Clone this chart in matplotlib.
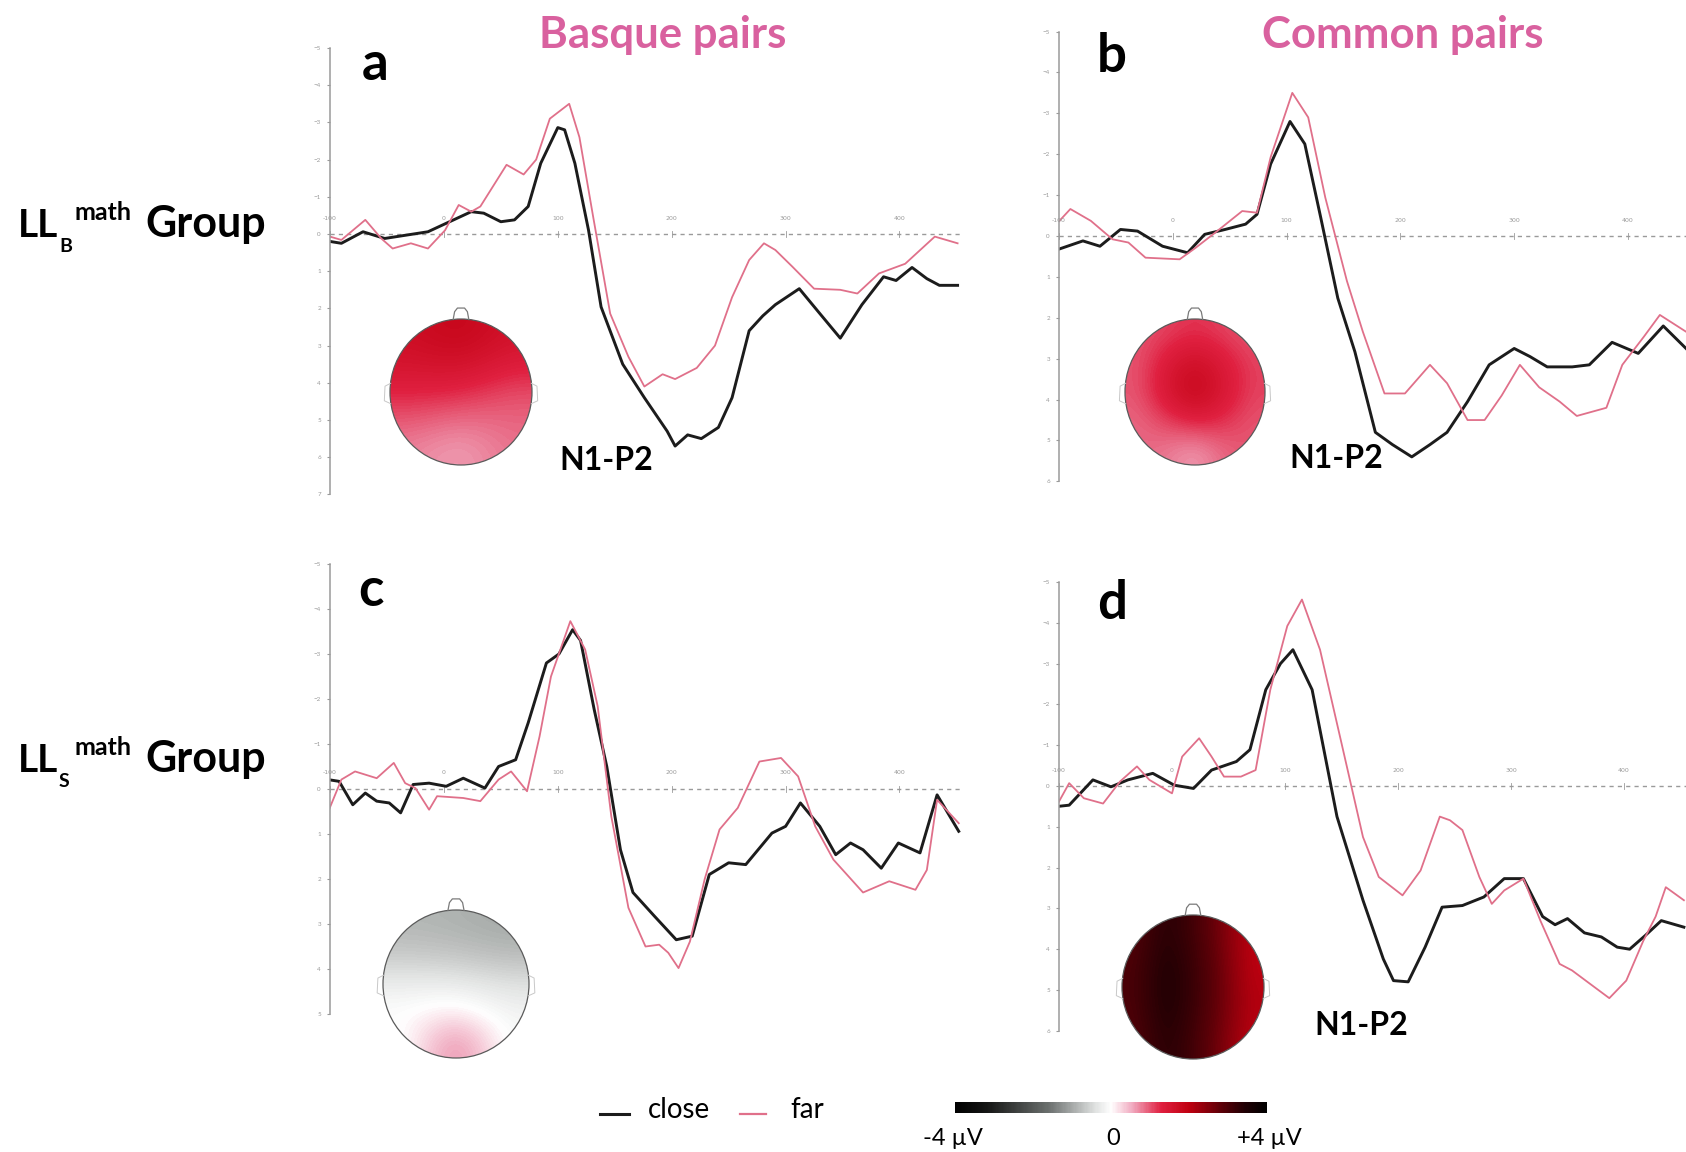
import matplotlib
matplotlib.use("Agg")
import matplotlib.pyplot as plt
import matplotlib.cm as cm
from matplotlib.colors import LinearSegmentedColormap, Normalize
from matplotlib.patches import Ellipse
from matplotlib.lines import Line2D

plt.rcParams['font.family'] = ['Lato', 'DejaVu Sans']

W, H = 1686, 1152

# --- ERP waveforms (time in ms, amplitude in uV, negative up) ---
a_close_t = [-100, -90, -71, -52, -33, -14, 5, 24, 35, 50, 62, 74, 85, 100, 106, 115, 127, 138, 157, 176,
             196, 203, 214, 226, 241, 253, 268, 280, 291, 312, 329, 348, 367, 386, 397, 411, 424, 435, 451]
a_close = [0.2, 0.25, -0.06, 0.12, 0.03, -0.06, -0.33, -0.6, -0.56, -0.33, -0.38, -0.74, -1.9, -2.86, -2.8,
           -1.9, -0.1, 1.96, 3.5, 4.4, 5.3, 5.7, 5.4, 5.5, 5.2, 4.4, 2.6, 2.2, 1.9, 1.47, 2.1, 2.8, 1.9,
           1.15, 1.25, 0.9, 1.2, 1.38, 1.38]
a_far_t = [-100, -90, -69, -55, -45, -29, -14, 1, 13, 24, 32, 55, 70, 81, 93, 110, 119, 131, 146, 162,
           176, 192, 203, 222, 238, 253, 268, 281, 291, 306, 325, 348, 363, 382, 405, 431, 451]
a_far = [0.07, 0.16, -0.38, 0.12, 0.39, 0.25, 0.39, -0.1, -0.78, -0.6, -0.74, -1.86, -1.6, -2.0, -3.1,
         -3.5, -2.6, -0.47, 2.14, 3.3, 4.1, 3.77, 3.9, 3.6, 3.0, 1.7, 0.7, 0.25, 0.43, 0.88, 1.47, 1.5,
         1.6, 1.06, 0.8, 0.07, 0.25]

b_close_t = [-101, -79, -64, -46, -31, -9, 13, 28, 46, 64, 74, 86, 103, 116, 130, 145, 160, 178, 193, 210,
             226, 241, 259, 278, 300, 314, 329, 351, 366, 386, 409, 431, 451]
b_close = [0.33, 0.12, 0.25, -0.16, -0.12, 0.25, 0.41, -0.04, -0.16, -0.29, -0.53, -1.76, -2.8, -2.25,
           -0.45, 1.52, 2.83, 4.8, 5.1, 5.4, 5.1, 4.8, 4.05, 3.15, 2.75, 2.95, 3.2, 3.2, 3.15, 2.6, 2.87,
           2.2, 2.75]
b_far_t = [-101, -90, -72, -53, -39, -24, 6, 20, 39, 61, 74, 86, 105, 119, 134, 153, 167, 186, 204, 226,
           241, 259, 274, 289, 305, 322, 340, 355, 381, 395, 414, 428, 451]
b_far = [-0.33, -0.66, -0.37, 0.08, 0.16, 0.53, 0.57, 0.29, -0.12, -0.61, -0.57, -1.93, -3.5, -2.9,
         -0.94, 1.1, 2.34, 3.85, 3.85, 3.15, 3.6, 4.5, 4.5, 3.9, 3.15, 3.7, 4.05, 4.4, 4.2, 3.15, 2.46,
         1.93, 2.34]

c_close_t = [-102, -92, -80, -69, -59, -48, -38, -27, -13, 2, 17, 36, 48, 63, 74, 90, 101, 113, 120, 132,
             143, 155, 166, 185, 204, 218, 233, 250, 265, 288, 300, 313, 330, 344, 357, 368, 384, 399,
             418, 433, 452]
c_close = [-0.21, -0.17, 0.35, 0.09, 0.27, 0.31, 0.53, -0.1, -0.13, -0.06, -0.24, -0.02, -0.5, -0.65,
           -1.47, -2.8, -3.0, -3.54, -3.3, -1.76, -0.5, 1.35, 2.3, 2.83, 3.35, 3.27, 1.9, 1.64, 1.68,
           0.98, 0.83, 0.31, 0.83, 1.46, 1.2, 1.35, 1.76, 1.2, 1.42, 0.13, 0.94]
c_far_t = [-102, -90, -78, -59, -44, -34, -25, -13, -6, 17, 32, 48, 59, 73, 84, 94, 111, 124, 135, 147,
           162, 177, 189, 197, 206, 216, 229, 242, 258, 277, 296, 311, 326, 342, 368, 391, 414, 424,
           433, 452]
c_far = [0.53, -0.21, -0.39, -0.24, -0.58, -0.13, -0.02, 0.46, 0.16, 0.2, 0.27, -0.21, -0.39, 0.05,
         -1.17, -2.5, -3.73, -3.1, -1.84, 0.61, 2.64, 3.5, 3.46, 3.64, 3.98, 3.39, 2.0, 0.9, 0.42, -0.61,
         -0.69, -0.28, 0.83, 1.57, 2.3, 2.05, 2.24, 1.8, 0.24, 0.76]

d_close_t = [-101, -91, -70, -54, -39, -17, 2, 19, 35, 57, 69, 83, 96, 107, 124, 146, 169, 187, 196, 209,
             224, 239, 257, 276, 294, 311, 328, 339, 350, 365, 380, 394, 405, 419, 433, 453]
d_close = [0.5, 0.47, -0.15, 0.02, -0.15, -0.31, -0.02, 0.06, -0.39, -0.6, -0.89, -2.36, -3.0, -3.34,
           -2.36, 0.75, 2.8, 4.24, 4.77, 4.8, 3.95, 2.97, 2.93, 2.72, 2.27, 2.27, 3.2, 3.4, 3.25, 3.6,
           3.7, 3.95, 4.0, 3.66, 3.3, 3.46]
d_far_t = [-101, -91, -78, -61, -46, -31, -20, 0, 9, 24, 35, 46, 61, 74, 87, 102, 115, 131, 150, 169,
           183, 204, 220, 237, 246, 257, 272, 283, 294, 311, 326, 343, 354, 370, 387, 402, 417, 428,
           437, 453]
d_far = [0.43, -0.07, 0.3, 0.43, -0.11, -0.48, -0.15, 0.18, -0.72, -1.17, -0.72, -0.23, -0.23, -0.39,
         -2.36, -3.92, -4.57, -3.34, -1.05, 1.25, 2.23, 2.68, 2.07, 0.75, 0.84, 1.08, 2.23, 2.89, 2.56,
         2.27, 3.3, 4.36, 4.52, 4.85, 5.2, 4.77, 3.8, 3.2, 2.48, 2.8]

time_ticks = [-100, 0, 100, 200, 300, 400]

# --- topographic maps (uV, rows = front -> back, cols = left -> right) ---
a_topo = [[1.7, 1.9, 1.6],
          [1.3, 1.25, 1.0],
          [0.75, 0.55, 0.85]]
b_topo = [[1.0, 1.1, 1.2, 1.1, 1.0],
          [1.0, 1.4, 1.7, 1.4, 1.1],
          [1.0, 1.5, 1.9, 1.5, 1.1],
          [0.9, 1.1, 1.3, 1.2, 1.0],
          [0.9, 0.8, 0.6, 0.9, 1.0]]
c_topo = [[-0.85, -0.9, -1.0],
          [-0.65, -0.7, -0.8],
          [-0.25, -0.25, -0.4],
          [0.0, 0.2, -0.15],
          [-0.1, 0.9, -0.1]]
d_topo = [[2.9, 3.4, 3.1, 2.6, 2.0],
          [3.0, 3.5, 3.2, 2.7, 2.0],
          [3.0, 3.5, 3.2, 2.7, 2.1],
          [2.9, 3.4, 3.1, 2.6, 2.0]]

cbar_labels = ['-4 µV', '0', '+4 µV']

BLACK = '#1c1c1c'
PINK_LINE = '#e0708a'
TITLE_PINK = '#d9619f'
GREY = '#9a9a9a'

cmap = LinearSegmentedColormap.from_list('erp', [
    (0.0, '#000000'), (0.1, '#141514'), (0.3, '#6b706e'), (0.45, '#e0e2e1'), (0.5, '#ffffff'),
    (0.57, '#f0a8be'), (0.66, '#e02040'), (0.75, '#c00010'), (0.85, '#600008'), (0.93, '#200004'),
    (1.0, '#000000')])
norm = Normalize(-4, 4)

fig = plt.figure(figsize=(W / 100, H / 100), dpi=100)


def box(x0, y0, x1, y1):
    # pixel box (origin top-left) -> figure fraction rect
    return [x0 / W, 1 - y1 / H, (x1 - x0) / W, (y1 - y0) / H]


def ftext(x, y, s, **kw):
    fig.text(x / W, 1 - y / H, s, **kw)


def erp_panel(x0, zero, unit, ylo, yhi, ppm, tmax, close_t, close, far_t, far):
    right = x0 + (tmax + 100) * ppm
    ax = fig.add_axes(box(x0, zero + ylo * unit, right, zero + yhi * unit))
    ax.set_xlim(-100, tmax)
    ax.set_ylim(yhi, ylo)
    ax.patch.set_alpha(0)
    for s in ['top', 'right', 'bottom']:
        ax.spines[s].set_visible(False)
    ax.spines['left'].set_color(GREY)
    ax.spines['left'].set_linewidth(1.1)
    ax.set_xticks([])
    ax.set_yticks(range(ylo, yhi + 1))
    ax.tick_params(axis='y', length=2.5, width=0.8, color=GREY, labelsize=4.5,
                   labelcolor=GREY, pad=4)
    ax.axhline(0, color=GREY, lw=1.0, ls=(0, (3, 3)))
    for t in time_ticks:
        ax.plot([t, t], [-3 / unit, 3 / unit], color=GREY, lw=0.6)
        ax.text(t, -16 / unit, str(t), fontsize=4.5, color=GREY, ha='center', va='center',
                family='DejaVu Sans')
    ax.plot(close_t, close, color=BLACK, lw=2.1)
    ax.plot(far_t, far, color=PINK_LINE, lw=1.3)
    return ax


def head(cx, cy, rx, ry, grid):
    ax = fig.add_axes(box(cx - rx * 1.25, cy - ry * 1.25, cx + rx * 1.25, cy + ry * 1.25))
    ax.set_xlim(-1.25, 1.25)
    ax.set_ylim(-1.25, 1.25)
    ax.axis('off')
    im = ax.imshow(grid, cmap=cmap, norm=norm, extent=[-1, 1, -1, 1], interpolation='bicubic',
                   origin='upper', aspect='auto')
    outline = Ellipse((0, 0), 2, 2, fc='none', ec='#5a5a5a', lw=0.9)
    ax.add_patch(outline)
    im.set_clip_path(outline)
    # nose and ears
    ax.plot([-0.11, -0.09, -0.05, 0.05, 0.09, 0.11], [0.995, 1.1, 1.15, 1.15, 1.1, 0.995],
            color='#7a7a7a', lw=0.9)
    for side in (-1, 1):
        ax.plot([side * 0.99, side * 1.07, side * 1.08, side * 0.99], [0.12, 0.08, -0.12, -0.16],
                color='#c8c8c8', lw=0.7)


# --- 4 panels ---
erp_panel(330, 234, 37.2, -5, 7, 1.139, 455, a_close_t, a_close, a_far_t, a_far)
erp_panel(1059, 236, 40.9, -5, 6, 1.138, 453, b_close_t, b_close, b_far_t, b_far)
erp_panel(330, 789, 45.0, -5, 5, 1.139, 455, c_close_t, c_close, c_far_t, c_far)
erp_panel(1059, 786, 40.8, -5, 6, 1.13, 455, d_close_t, d_close, d_far_t, d_far)

head(461, 392, 71, 73, a_topo)
head(1195, 392, 70, 73, b_topo)
head(456, 984, 73, 74, c_topo)
head(1193, 987, 71, 72, d_topo)

# --- text ---
for lab, x, y in [('a', 375, 80), ('b', 1112, 72), ('c', 371, 606), ('d', 1112, 619)]:
    ftext(x, y, lab, fontsize=38, fontweight='bold', ha='center', va='baseline')

ftext(663, 48, 'Basque pairs', fontsize=31.5, fontweight='bold', color=TITLE_PINK, ha='center',
      va='baseline')
ftext(1403, 48, 'Common pairs', fontsize=31.5, fontweight='bold', color=TITLE_PINK, ha='center',
      va='baseline')

for sub, base in [('B', 237), ('S', 772)]:
    ftext(18, base, 'LL', fontsize=28, fontweight='bold', va='baseline')
    ftext(59, base + 15, sub, fontsize=14, fontweight='bold', va='baseline')
    ftext(75, base - 17, 'math', fontsize=18, fontweight='bold', va='baseline')
    ftext(145, base, 'Group', fontsize=31, fontweight='bold', va='baseline')

for x, y in [(606, 470), (1336, 468), (1361, 1035)]:
    ftext(x, y, 'N1-P2', fontsize=23, fontweight='bold', ha='center', va='baseline')

# --- legend ---
fig.add_artist(Line2D([600 / W, 629 / W], [1 - 1114 / H] * 2, color=BLACK, lw=2.2))
ftext(648, 1118, 'close', fontsize=20, va='baseline')
fig.add_artist(Line2D([740 / W, 766 / W], [1 - 1114 / H] * 2, color=PINK_LINE, lw=1.6))
ftext(790, 1118, 'far', fontsize=20, va='baseline')

# --- colour bar ---
cax = fig.add_axes(box(955, 1102, 1267, 1113))
cb = fig.colorbar(cm.ScalarMappable(norm=norm, cmap=cmap), cax=cax, orientation='horizontal')
cb.set_ticks([])
cb.outline.set_visible(False)
for x, s in zip([953, 1113, 1269], cbar_labels):
    ftext(x, 1145, s, fontsize=17, ha='center', va='baseline')

fig.savefig('out.png', dpi=100, facecolor='white')
